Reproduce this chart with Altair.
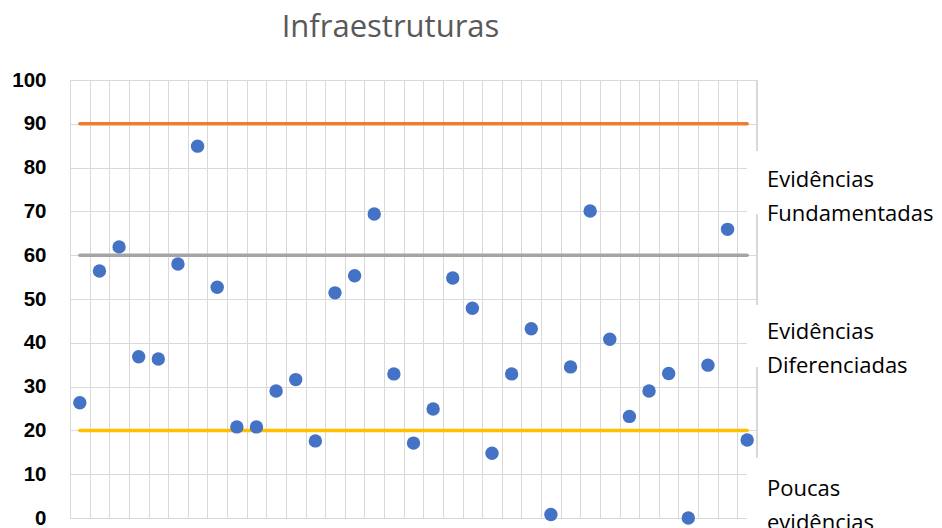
import altair as alt
import pandas as pd

# ---- data ----
categories = list(range(1, 36))
scores = [26.3, 56.4, 61.9, 36.8, 36.3, 58.0, 84.9, 52.7, 20.8, 20.8,
          29.0, 31.6, 17.6, 51.4, 55.3, 69.4, 32.9, 17.1, 24.9, 54.8,
          47.9, 14.8, 32.9, 43.2, 0.8, 34.5, 70.1, 40.8, 23.2, 29.0,
          33.0, 0.0, 34.9, 65.9, 17.8]
threshold_names = ["Limite 90", "Limite 60", "Limite 20"]
threshold_values = [90, 60, 20]
threshold_colors = ["#ED7D31", "#A5A5A5", "#FFC000"]
zone_labels = ["Evidências\nFundamentadas", "Evidências\nDiferenciadas", "Poucas\nevidências"]
zone_label_y = [75.5, 40.8, 5.0]
y_ticks = list(range(0, 101, 10))
title_text = "Infraestruturas"

# ---- layout ----
W, H = 687, 438
band = W / len(categories)


def ypix(v):
    return H * (1 - v / 100)


points_df = pd.DataFrame({"cat": categories, "score": scores})
lines_df = pd.DataFrame(
    [{"name": n, "value": v, "cat": c}
     for n, v in zip(threshold_names, threshold_values)
     for c in (categories[0], categories[-1])]
)
labels_df = pd.DataFrame({"label": zone_labels, "y": zone_label_y})

x_scale = alt.Scale(paddingInner=0, paddingOuter=0)
y_scale = alt.Scale(domain=[0, 100], nice=False)

x_enc = alt.X("cat:O", scale=x_scale, sort=categories,
              axis=alt.Axis(title=None, labels=False, ticks=False, domain=False,
                            grid=True, gridColor="#D9D9D9", gridWidth=1,
                            tickBand="extent"))
y_enc = alt.Y("score:Q", scale=y_scale,
              axis=alt.Axis(title=None, values=y_ticks, grid=True,
                            gridColor="#D9D9D9", gridWidth=1, domain=False,
                            ticks=False, tickSize=0, labelPadding=24,
                            labelFont="Liberation Sans", labelFontSize=20.5,
                            labelFontWeight="bold", labelColor="#000000"))

base_points = alt.Chart(points_df).mark_circle(
    size=180, color="#4472C4", opacity=1
).encode(x=x_enc, y=y_enc)

right_edge = alt.Chart(points_df).mark_rule(color="#D9D9D9", strokeWidth=1).encode(
    x=alt.value(W), y=alt.value(0), y2=alt.value(H)
)

boxes = [(83.6, 69.4), (48.6, 34.5), (13.7, -5.0)]
box_layers = [
    alt.Chart(points_df).mark_rect(fill="white", stroke=None).encode(
        x=alt.value(W - band / 2), x2=alt.value(W + 180),
        y=alt.value(ypix(top)), y2=alt.value(ypix(bot)))
    for top, bot in boxes
]

thr_lines = alt.Chart(lines_df).mark_line(strokeWidth=3.5, strokeCap="round").encode(
    x=alt.X("cat:O", scale=x_scale, sort=categories),
    y=alt.Y("value:Q", scale=y_scale),
    color=alt.Color("name:N", scale=alt.Scale(domain=threshold_names,
                                              range=threshold_colors),
                    legend=None),
    detail="name:N",
)

zone_text = alt.Chart(labels_df).mark_text(
    align="left", baseline="alphabetic", font="Open Sans", fontSize=22,
    color="#000000", lineBreak="\n", lineHeight=34
).encode(
    x=alt.value(W + 10),
    y=alt.Y("y:Q", scale=y_scale),
    text="label:N",
)

chart = alt.layer(
    base_points.mark_circle(opacity=0),  # establishes axes/grid
    right_edge,
    *box_layers,
    thr_lines,
    base_points,
    zone_text,
).properties(
    width=W, height=H,
    padding={"left": 62, "top": 72, "right": 177, "bottom": 10},
    autosize=alt.AutoSizeParams(type="none"),
    title=alt.TitleParams(
        text=title_text, font="Open Sans", fontSize=31, fontWeight="normal",
        color="#595959", anchor="middle", frame="group", dx=-23, offset=26,
    ),
).configure_view(stroke=None).configure(background="white")

chart.save("out.html", embed_options={"renderer": "svg", "actions": False})
